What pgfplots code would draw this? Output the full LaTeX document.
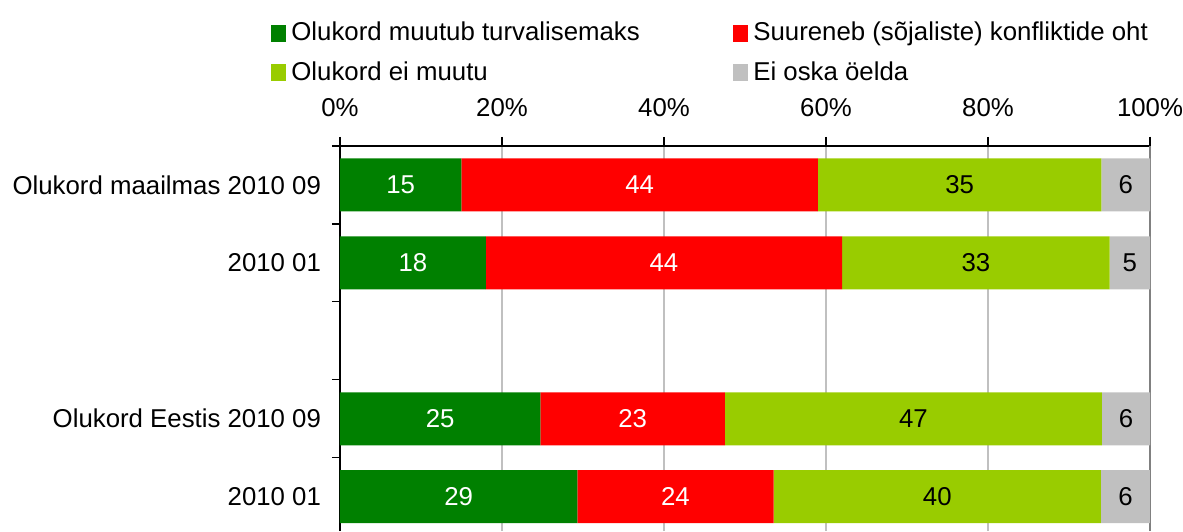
\documentclass[border=0pt]{standalone}
\usepackage{pgfplots}
\usepackage{pgfplotstable}
\usepackage{fontspec}
\setmainfont{Liberation Sans}
\pgfplotsset{compat=1.18}
\definecolor{cA}{RGB}{0,128,0}
\definecolor{cB}{RGB}{255,0,0}
\definecolor{cC}{RGB}{153,204,0}
\definecolor{cD}{RGB}{192,192,192}
\definecolor{gridc}{RGB}{192,192,192}
\definecolor{framec}{RGB}{128,128,128}
\pgfplotstableread{
y a b c d
4 15 44 35 6
3 18 44 33 5
1 25 23 47 6
0 29 24 40 6
}\datatab
\newcommand{\tot}{(\thisrow{a}+\thisrow{b}+\thisrow{c}+\thisrow{d})}
\begin{document}
\begin{tikzpicture}[font=\fontsize{12.9}{15.5}\selectfont]
\path[use as bounding box] (-170pt,0pt) rectangle (421.5pt,265.5pt);
\begin{axis}[
  at={(0pt,0pt)}, anchor=south west,
  scale only axis, width=405pt, height=192.5pt,
  xbar stacked, bar width=26.5pt,
  xmin=0, xmax=100, ymin=-0.44, ymax=4.5,
  axis x line*=top, axis y line*=left,
  axis line style={-, black, line width=0.8pt},
  tick align=outside,
  major tick length=4.5pt, minor tick length=4pt,
  xtick={0,20,40,60,80,100},
  xticklabel={\pgfmathprintnumber{\tick}\%},
  xticklabel style={yshift=6.5pt},
  yticklabel style={xshift=-1.5pt},
  xmajorgrids, major grid style={draw=gridc, line width=0.6pt},
  extra x ticks={100}, extra x tick labels={},
  extra x tick style={major grid style={draw=framec, line width=1pt}},
  ytick={0,1,3,4},
  yticklabels={2010 01, Olukord Eestis 2010 09, 2010 01, Olukord maailmas 2010 09},
  minor ytick={-0.5,0.5,1.5,2.5,3.5,4.5},
  major y tick style={draw=none},
  every tick/.style={black, line width=0.6pt},
  /pgf/number format/assume math mode=true,
  legend columns=2,
  legend image code/.code={\fill[#1] (0pt,-4.25pt) rectangle (7.5pt,4.25pt);},
  legend style={draw=none, fill=none, inner sep=0pt, column sep=2.5pt, row sep=9pt,
    at={(axis description cs:-0.0852,1)}, anchor=south west, yshift=31pt,
    nodes={inner sep=0pt, anchor=west}},
  legend cell align=left,
  nodes near coords={\pgfplotspointmeta},
  point meta=explicit symbolic,
]
\addplot[fill=cA, draw=none,
  every node near coord/.append style={text=white, anchor=center}]
  table[x expr={\thisrow{a}*100/\tot}, y=y, meta=a] {\datatab};
\addlegendentry{\makebox[218.5pt][l]{Olukord muutub turvalisemaks}}
\addplot[fill=cB, draw=none,
  every node near coord/.append style={text=white, anchor=center}]
  table[x expr={\thisrow{b}*100/\tot}, y=y, meta=b] {\datatab};
\addlegendentry{Suureneb (sõjaliste) konfliktide oht}
\addplot[fill=cC, draw=none,
  every node near coord/.append style={text=black, anchor=center}]
  table[x expr={\thisrow{c}*100/\tot}, y=y, meta=c] {\datatab};
\addlegendentry{\makebox[218.5pt][l]{Olukord ei muutu}}
\addplot[fill=cD, draw=none,
  every node near coord/.append style={text=black, anchor=center}]
  table[x expr={\thisrow{d}*100/\tot}, y=y, meta=d] {\datatab};
\addlegendentry{Ei oska öelda}
\end{axis}
\end{tikzpicture}
\end{document}
